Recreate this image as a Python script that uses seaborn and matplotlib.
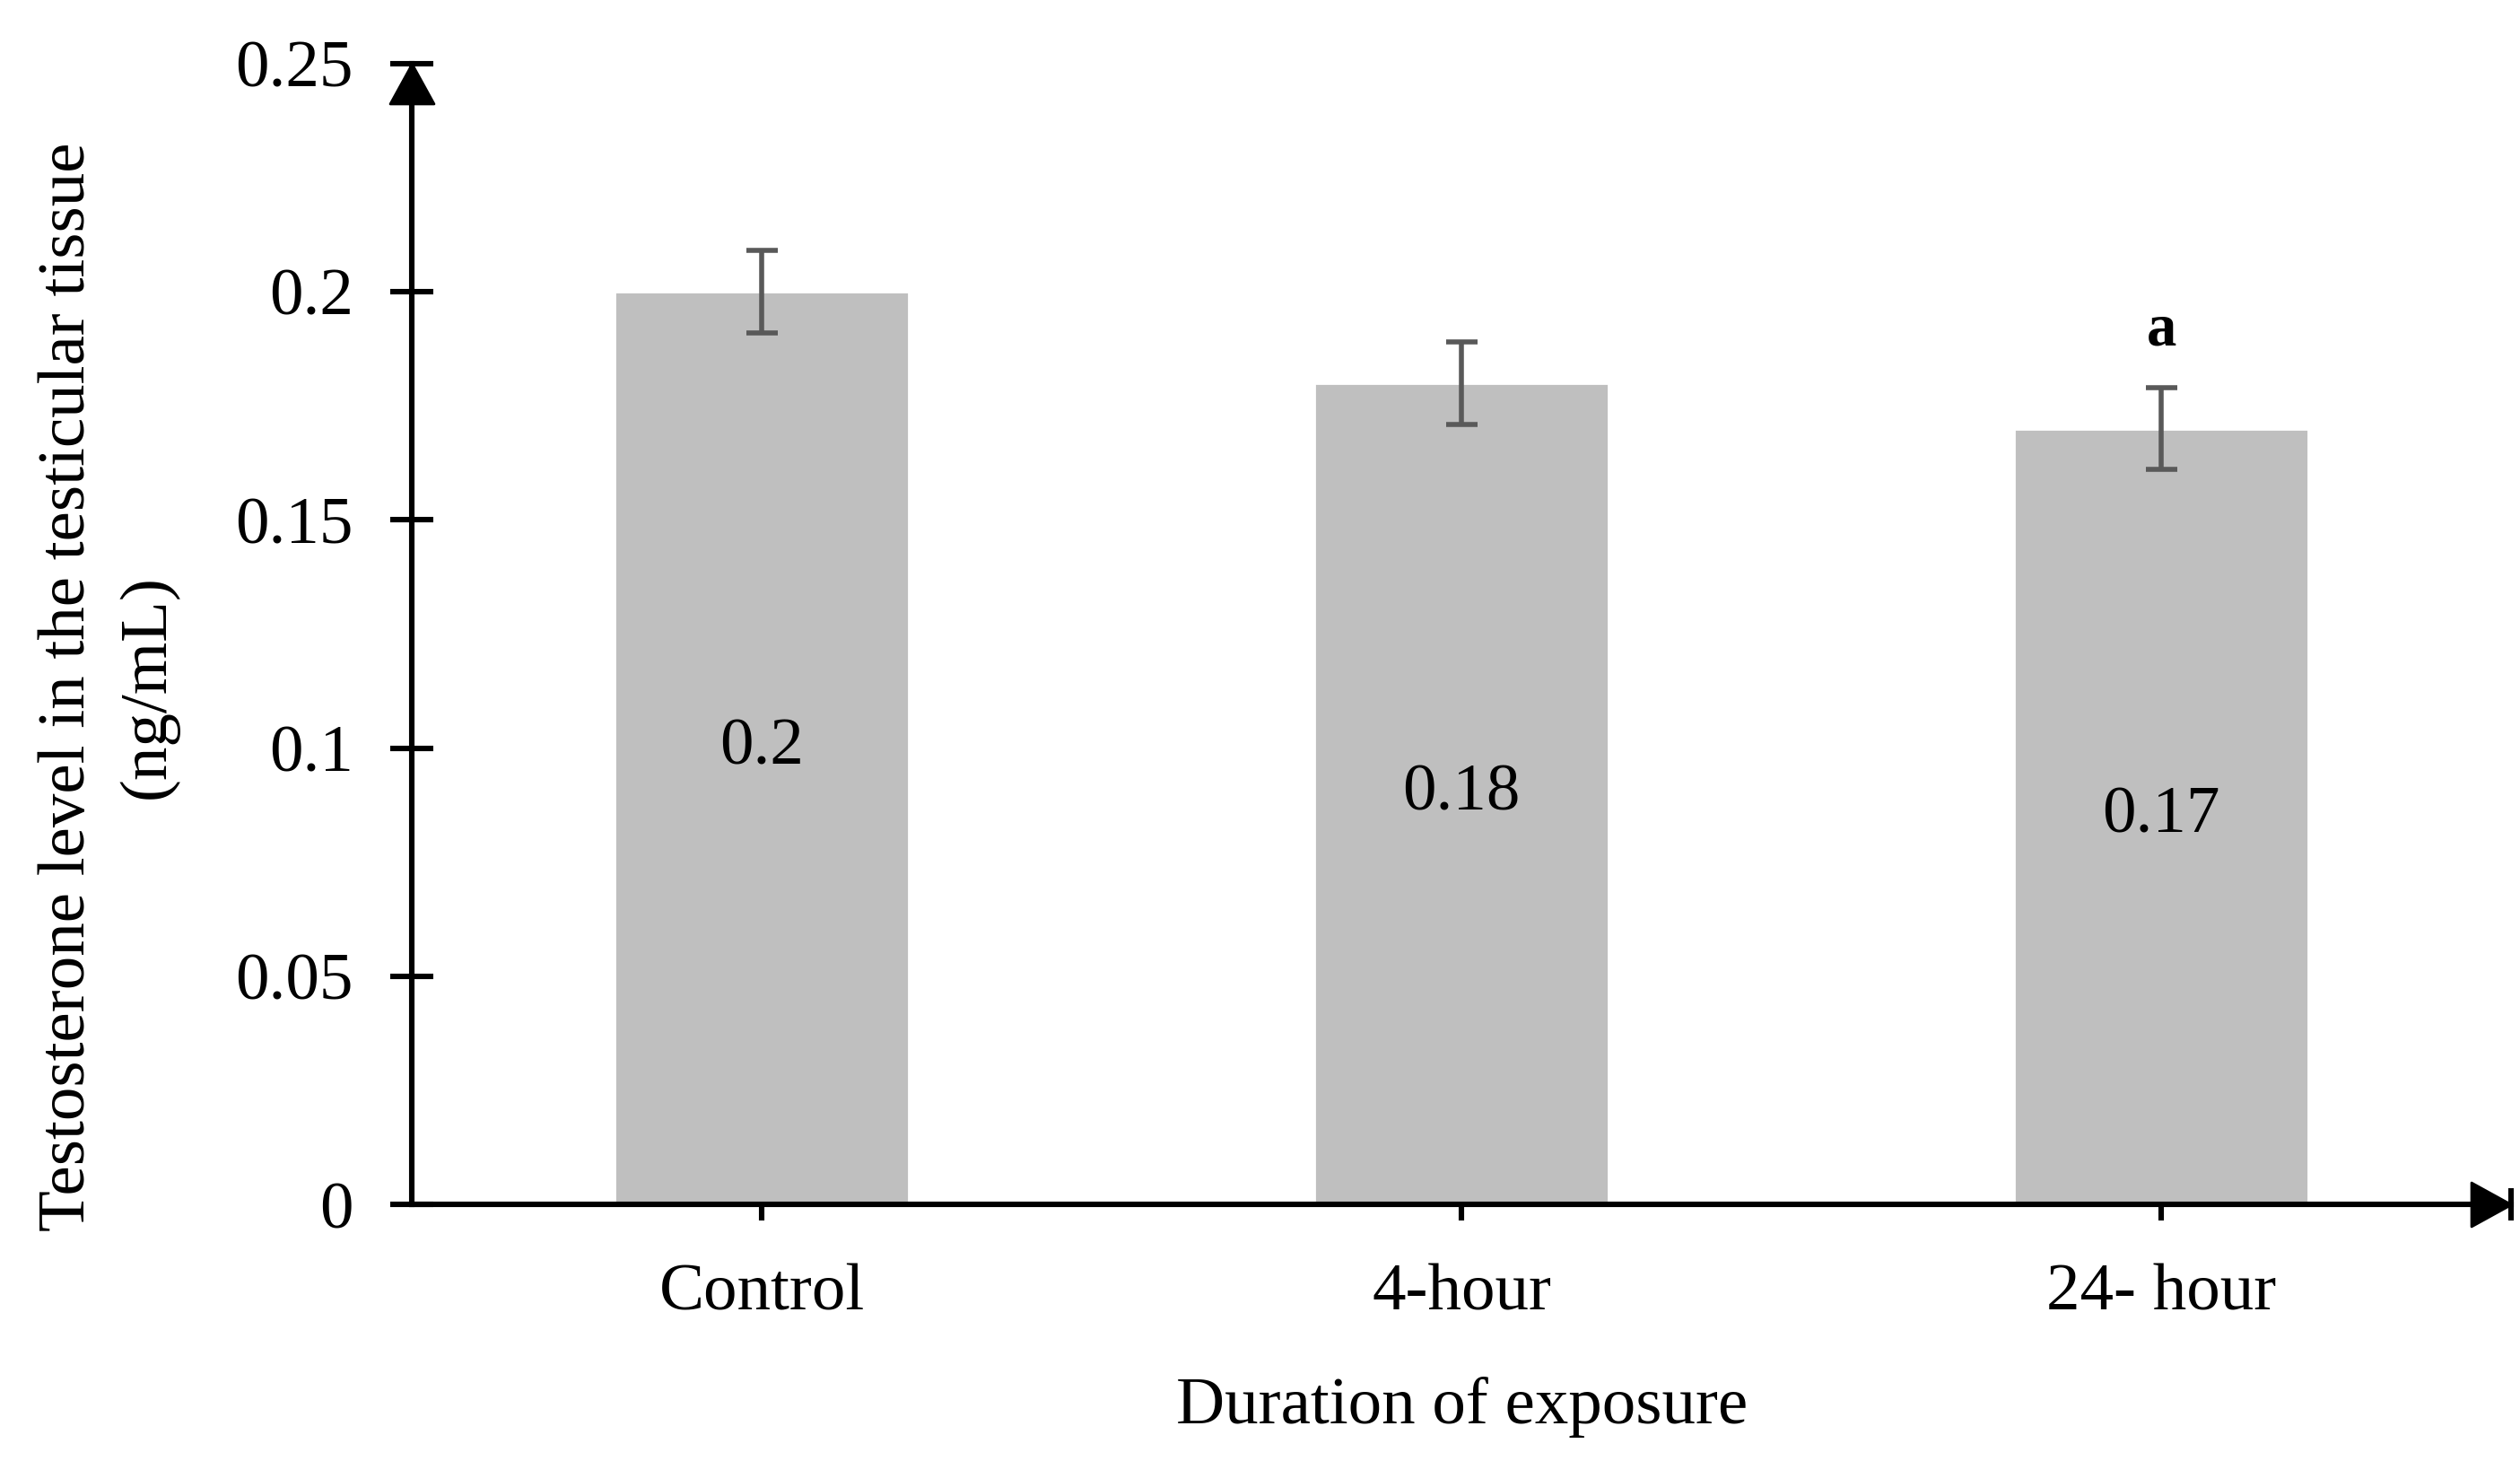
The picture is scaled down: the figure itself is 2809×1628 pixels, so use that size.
"""
Testosterone level in the testicular tissue by exposure duration
"""

import matplotlib
matplotlib.use("Agg")
import matplotlib.pyplot as plt
import seaborn as sns
import pandas as pd
from matplotlib.path import Path

# ---- data ----
groups = ["Control", "4-hour", "24- hour"]
testosterone = [0.20, 0.18, 0.17]
sem = [0.009, 0.009, 0.009]
significance = ["", "", "a"]

y_ticks = [0, 0.05, 0.10, 0.15, 0.20, 0.25]
y_ticklabels = ["0", "0.05", "0.1", "0.15", "0.2", "0.25"]

BAR_COLOR = "#BFBFBF"
ERR_COLOR = "#595959"

sns.set_theme(style="white")
plt.rcParams["font.family"] = ["Liberation Serif", "DejaVu Serif"]
plt.rcParams["text.color"] = "black"
plt.rcParams["axes.labelcolor"] = "black"

df = pd.DataFrame({"Group": groups, "Level": testosterone})

fig = plt.figure(figsize=(14.045, 8.14), dpi=200)
ax = fig.add_axes([0.1635, 0.1755, 0.833, 0.781])

sns.barplot(data=df, x="Group", y="Level", color=BAR_COLOR, width=0.42,
            errorbar=None, saturation=1, ax=ax)
ax.errorbar(range(len(groups)), testosterone, yerr=sem, fmt="none",
            ecolor=ERR_COLOR, elinewidth=2, capsize=6.3, capthick=2)

# value labels in the middle of each bar, letters above the error bars
for i, (v, s, lab) in enumerate(zip(testosterone, sem, significance)):
    ax.text(i, v / 2, f"{v:g}", ha="center", va="center", fontsize=27)
    if lab:
        ax.text(i, v + s + 0.0125, lab, ha="center", va="center",
                fontsize=24, fontweight="bold")

ax.set_xlim(-0.5, 2.5)
ax.set_ylim(0, 0.25)
ax.set_yticks(y_ticks)
ax.set_yticklabels(y_ticklabels)

for side in ["top", "right"]:
    ax.spines[side].set_visible(False)
for side in ["left", "bottom"]:
    ax.spines[side].set_linewidth(2.2)
    ax.spines[side].set_color("black")

ax.tick_params(axis="y", left=True, direction="inout", length=17, width=2.2,
               pad=15, labelsize=27, colors="black")
ax.tick_params(axis="x", bottom=True, direction="inout", length=13, width=2.2,
               pad=17, labelsize=27, colors="black")
ax.set_xlabel("")
ax.set_ylabel("")

# arrow heads at the ends of the axes
up = Path([(0, 0), (-0.55, -1), (0.55, -1), (0, 0)])
right = Path([(0, 0), (-1, 0.55), (-1, -0.55), (0, 0)])
ax.plot([-0.5], [0.25], marker=up, markersize=32, color="black",
        clip_on=False, zorder=5)
ax.plot([2.5], [0], marker=right, markersize=32, color="black",
        clip_on=False, zorder=5)
ax.plot([2.5], [0], marker="|", markersize=13, markeredgewidth=2.2,
        color="black", clip_on=False, zorder=5)

fig.text(0.5803, 0.037, "Duration of exposure", ha="center", va="center",
         fontsize=27)
fig.text(0.043, 0.53, "Testosterone level in the testicular tissue\n(ng/mL)",
         ha="center", va="center", rotation=90, fontsize=27,
         multialignment="center", linespacing=1.4)

fig.savefig("out.png", dpi=200)
